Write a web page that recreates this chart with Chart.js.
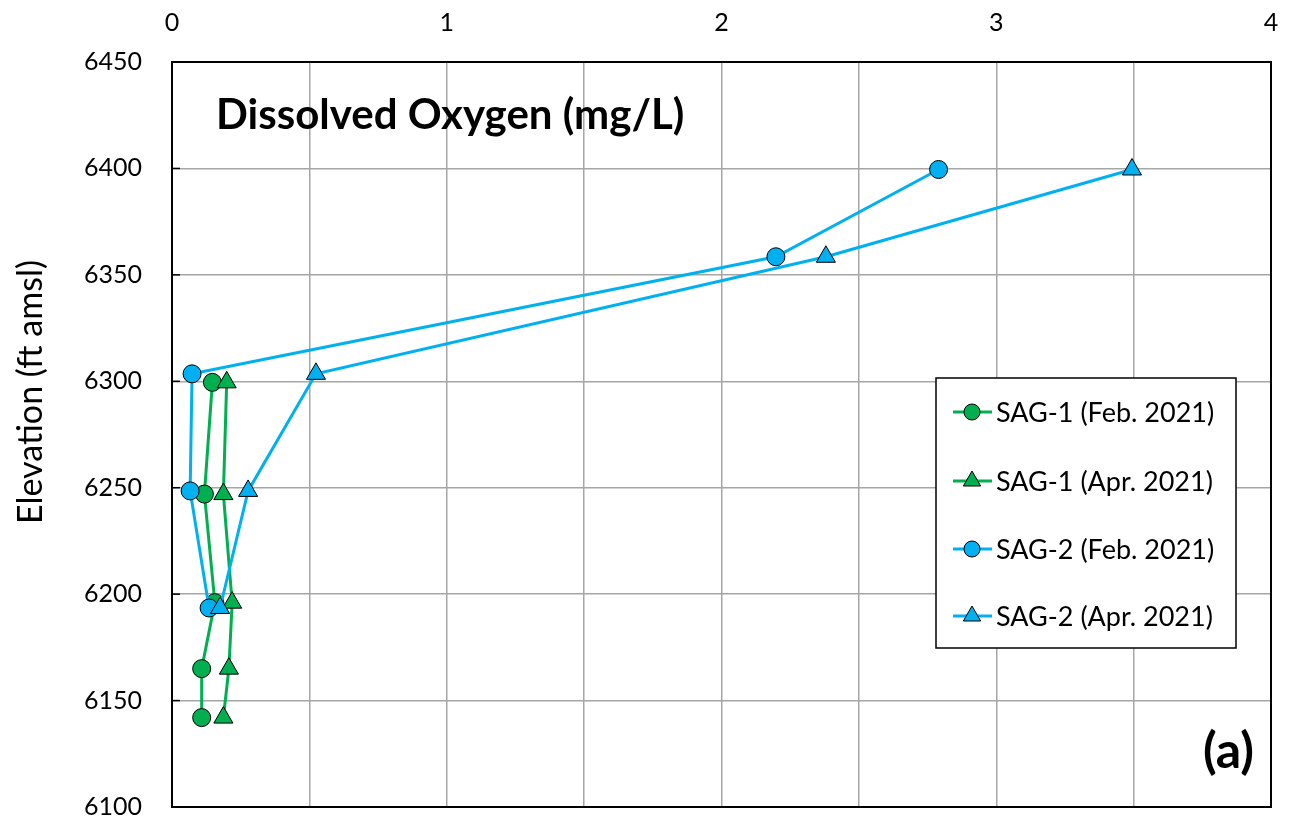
<!DOCTYPE html>
<html lang="en">
<head>
<meta charset="UTF-8">
<title>Dissolved Oxygen</title>
<script src="https://cdn.jsdelivr.net/npm/chart.js@4.4.1/dist/chart.umd.min.js"></script>
<style>
  html, body { margin: 0; padding: 0; background: #fff; overflow: hidden; }
  #wrap { width: 1299px; height: 821px; position: relative; }
</style>
</head>
<body>
<div id="wrap"><canvas id="myChart"></canvas></div>
<script>
// elevations (ft amsl) per station
const elevSag1 = [6299.5, 6247, 6196, 6165, 6142];
const elevSag2 = [6399.5, 6358.5, 6303.5, 6248.5, 6193.5];
// dissolved oxygen (mg/L)
const doSag1Feb = [0.147, 0.118, 0.156, 0.108, 0.108];
const doSag1Apr = [0.199, 0.187, 0.219, 0.207, 0.187];
const doSag2Feb = [2.79, 2.198, 0.073, 0.066, 0.135];
const doSag2Apr = [3.494, 2.38, 0.524, 0.277, 0.175];

const seriesNames = ['SAG-1 (Feb. 2021)', 'SAG-1 (Apr. 2021)', 'SAG-2 (Feb. 2021)', 'SAG-2 (Apr. 2021)'];
const xTicks = [0, 1, 2, 3, 4];
const yTicks = [6100, 6150, 6200, 6250, 6300, 6350, 6400, 6450];

const GREEN = '#00B050';
const BLUE = '#00B0F0';
const FONT = 'Lato, "Open Sans", sans-serif';

function pts(xs, ys) {
  return xs.map(function(x, i) { return { x: x, y: ys[i] }; });
}

function makeSet(i, xs, ys, color, shape, order) {
  return {
    label: seriesNames[i],
    data: pts(xs, ys),
    showLine: true,
    borderColor: color,
    borderWidth: 3,
    backgroundColor: color,
    pointBackgroundColor: color,
    pointBorderColor: '#000',
    pointBorderWidth: 1,
    pointStyle: shape,
    pointRadius: shape === 'triangle' ? 11 : 9,
    order: order
  };
}

// frame, inner ticks, titles, (a) label and the boxed legend
const extras = {
  id: 'extras',
  afterDatasetsDraw(chart) {
    const ctx = chart.ctx;
    const a = chart.chartArea;
    const ys = chart.scales.y;
    ctx.save();
    ctx.strokeStyle = '#000';
    ctx.lineWidth = 2;
    ctx.strokeRect(a.left, a.top, a.right - a.left, a.bottom - a.top);
    ctx.lineWidth = 1.5;
    yTicks.forEach(function(v) {
      const py = ys.getPixelForValue(v);
      ctx.beginPath();
      ctx.moveTo(a.left, py);
      ctx.lineTo(a.left + 8, py);
      ctx.stroke();
    });

    ctx.fillStyle = '#000';
    ctx.textBaseline = 'middle';
    ctx.textAlign = 'left';
    ctx.font = 'bold 42px ' + FONT;
    ctx.fillText('Dissolved Oxygen (mg/L)', 216, 115);
    ctx.textAlign = 'right';
    ctx.font = 'bold 50px ' + FONT;
    ctx.fillText('(a)', 1254, 752);

    // y axis title
    ctx.save();
    ctx.translate(31, 392);
    ctx.rotate(-Math.PI / 2);
    ctx.textAlign = 'center';
    ctx.font = '34px ' + FONT;
    ctx.fillText('Elevation (ft amsl)', 0, 0);
    ctx.restore();

    // legend box
    const lx = 936, ly = 378, lw = 300, lh = 270;
    ctx.fillStyle = '#fff';
    ctx.fillRect(lx, ly, lw, lh);
    ctx.strokeStyle = '#000';
    ctx.lineWidth = 1.5;
    ctx.strokeRect(lx, ly, lw, lh);
    const rowsY = [412, 481, 549, 616];
    chart.data.datasets.forEach(function(ds, i) {
      const cy = rowsY[i];
      ctx.strokeStyle = ds.borderColor;
      ctx.lineWidth = 3;
      ctx.beginPath();
      ctx.moveTo(953, cy);
      ctx.lineTo(992, cy);
      ctx.stroke();
      ctx.fillStyle = ds.backgroundColor;
      ctx.strokeStyle = '#000';
      ctx.lineWidth = 1;
      Chart.helpers.drawPoint(ctx, { pointStyle: ds.pointStyle, radius: ds.pointStyle === 'triangle' ? 10 : 8, borderWidth: 1 }, 972, cy);
      ctx.fillStyle = '#000';
      ctx.textAlign = 'left';
      ctx.font = '27px ' + FONT;
      ctx.fillText(ds.label, 996, cy + 1);
    });
    ctx.restore();
  }
};

const ctx = document.getElementById('myChart').getContext('2d');
const myChart = new Chart(ctx, {
  type: 'scatter',
  data: {
    datasets: [
      makeSet(0, doSag1Feb, elevSag1, GREEN, 'circle', 3),
      makeSet(1, doSag1Apr, elevSag1, GREEN, 'triangle', 2),
      makeSet(2, doSag2Feb, elevSag2, BLUE, 'circle', 1),
      makeSet(3, doSag2Apr, elevSag2, BLUE, 'triangle', 0)
    ]
  },
  options: {
    responsive: true,
    maintainAspectRatio: false,
    animation: false,
    layout: { padding: { left: 0, right: 28, top: 0, bottom: 14 } },
    plugins: {
      legend: { display: false },
      tooltip: { enabled: false }
    },
    scales: {
      x: {
        type: 'linear',
        position: 'top',
        min: xTicks[0],
        max: xTicks[xTicks.length - 1],
        afterFit: function(s) { s.height = 62; s.paddingLeft = 0; s.paddingRight = 0; },
        ticks: {
          stepSize: 0.5,
          padding: 24,
          color: '#000',
          font: { family: FONT, size: 25 },
          maxRotation: 0,
          callback: function(v) { return xTicks.indexOf(v) >= 0 ? String(v) : ''; }
        },
        grid: { color: '#a6a6a6', lineWidth: 1.5, drawTicks: false },
        border: { color: '#000', width: 2 }
      },
      y: {
        type: 'linear',
        min: yTicks[0],
        max: yTicks[yTicks.length - 1],
        afterFit: function(s) { s.width = 172; s.paddingTop = 0; s.paddingBottom = 0; },
        ticks: {
          stepSize: 50,
          padding: 30,
          color: '#000',
          font: { family: FONT, size: 25 },
          callback: function(v) { return String(v); }
        },
        grid: { color: '#a6a6a6', lineWidth: 1.5, drawTicks: false },
        border: { color: '#000', width: 2 }
      }
    }
  },
  plugins: [extras]
});
</script>
</body>
</html>
